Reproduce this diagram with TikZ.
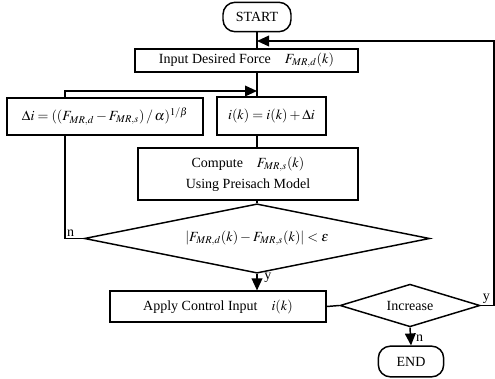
\documentclass[tikz,border=0pt]{standalone}
\usepackage{mathptmx}
\usepackage{fontspec}
\setmainfont{Liberation Serif}
\usetikzlibrary{shapes.geometric,arrows.meta}

\tikzset{every picture/.style={line width=1.1pt}}
\tikzset{
  txt/.style={font=\fontsize{10.5}{13}\selectfont},
  proc/.style={draw, rectangle, inner sep=1pt, align=center, txt},
  term/.style={draw, rectangle, rounded corners=9pt, inner sep=1pt, txt},
  test/.style={draw, diamond, inner sep=0pt, txt},
  flow/.style={-{Triangle[length=9pt,width=8pt]}},
  tag/.style={inner sep=1pt, txt}
}

\begin{document}
\begin{tikzpicture}[x=0.75pt,y=0.75pt,yscale=-1,xscale=1]
\useasboundingbox (0,0) rectangle (495,378);

\node (start) at (257,17) [term, minimum width=51pt, minimum height=22pt] {START};
\node (input) at (246.5,60.5) [proc, minimum width=167pt, minimum height=17pt] {Input Desired Force\quad $F_{MR,d}(k)$};
\node (di) at (105,116.5) [proc, minimum width=147pt, minimum height=27.5pt] {$\Delta i = ((F_{MR,d} - F_{MR,s})\,/\,\alpha)^{1/\beta}$};
\node (ik) at (271.5,116) [proc, minimum width=82pt, minimum height=28.5pt] {$i(k) = i(k) + \Delta i$};
\node (comp) at (248,174) [proc, minimum width=165pt, minimum height=39pt] {Compute\quad $F_{MR,s}(k)$\\[3pt] Using Preisach Model};
\node (check) at (257,238.5) [test, aspect=5, minimum width=259pt, minimum height=52pt] {$|F_{MR,d}(k) - F_{MR,s}(k)| < \varepsilon$};
\node (apply) at (218,306.5) [proc, minimum width=162pt, minimum height=23pt] {Apply Control Input\quad $i(k)$};
\node (inc) at (410,305.5) [test, aspect=3, minimum width=105pt, minimum height=32pt] {Increase};
\node (end) at (411,361.5) [term, minimum width=49pt, minimum height=23pt] {END};

\coordinate (back) at (494,41);
\coordinate (dtop) at (65,91);

\draw (start.south) -- (start.south |- input.north);
\draw [flow] (inc.east) -| (back) -- (back -| start.south);
\draw (input.south -| start) -- (ik.north -| start);
\draw [flow] (di.north -| dtop) -- (dtop) -- (dtop -| start);
\draw (ik.south -| start) -- (comp.north -| start);
\draw (comp.south -| start) -- (check.north);
\draw (check.west) -| (di.south -| dtop);
\draw [flow] (check.south) -- (check.south |- apply.north);
\draw (apply.east) -- (inc.west);
\draw [flow] (inc.south) -- (end.north);

\node [tag, anchor=south west] at (check.west -| dtop) {n};
\node [tag, anchor=west] at ([xshift=4pt,yshift=3pt]check.south) {y};
\node [tag, anchor=south west] at (inc.east) {y};
\node [tag, anchor=west] at ([xshift=3pt,yshift=8pt]inc.south) {n};

\end{tikzpicture}
\end{document}
